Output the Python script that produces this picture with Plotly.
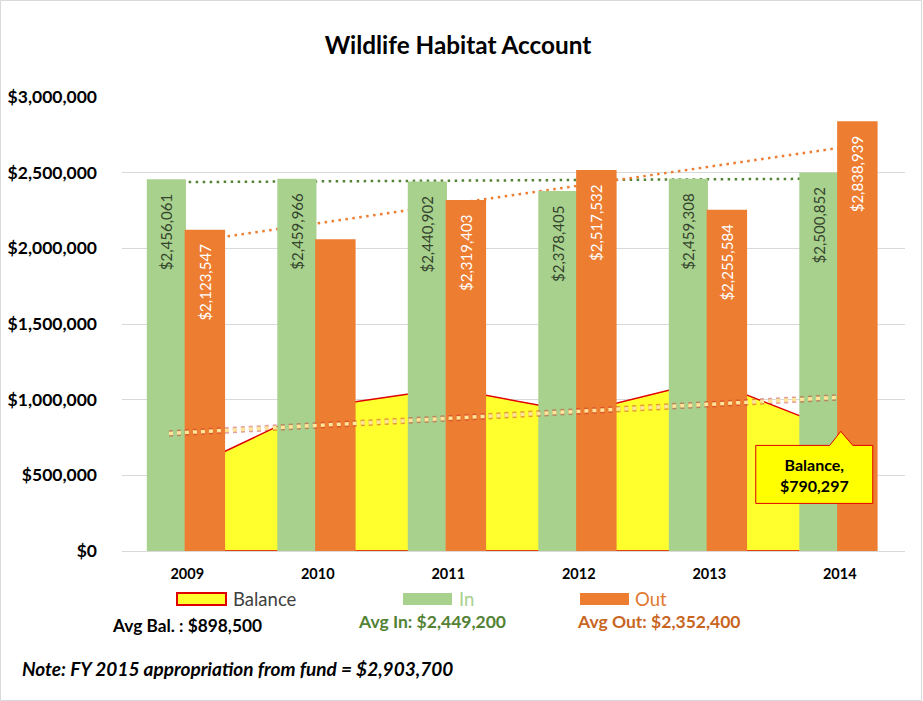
import numpy as np
import plotly.graph_objects as go

years = ["2009", "2010", "2011", "2012", "2013", "2014"]
in_vals = [2456061, 2459966, 2440902, 2378405, 2459308, 2500852]
out_vals = [2123547, 2059400, 2319403, 2517532, 2255584, 2838939]
out_labels = ["$2,123,547", "", "$2,319,403", "$2,517,532", "$2,255,584", "$2,838,939"]
balance = [540000, 950000, 1075000, 915000, 1128000, 790297]

title = "Wildlife Habitat Account"
avg_bal_text = "Avg Bal. : $898,500"
avg_in_text = "Avg In: $2,449,200"
avg_out_text = "Avg Out: $2,352,400"
note_text = "Note: FY 2015 appropriation from fund = $2,903,700"
callout_text = "Balance,<br>$790,297"

GREEN = "#A9D18E"
ORANGE = "#ED7D31"
FONT = "Lato"
PAD = "&nbsp;&nbsp;&nbsp;"

idx = np.arange(len(years))

def trend(vals, xs):
    k, b = np.polyfit(idx, np.array(vals, dtype=float), 1)
    xs = np.array(xs, dtype=float)
    return xs, k * xs + b

fig = go.Figure()

# ---- base layer (behind bars): balance area + In/Out trendlines
fig.add_trace(go.Scatter(
    x=list(idx) + [idx[-1], idx[0]],
    y=balance + [0, 0],
    fill="toself", fillcolor="#FFFF2E",
    line=dict(color="#E00000", width=1.5),
    mode="lines", hoverinfo="skip", xaxis="x", yaxis="y"))

tx, ty = trend(in_vals, [idx[0] - 0.15, idx[-1] - 0.15])
fig.add_trace(go.Scatter(x=tx, y=ty, mode="lines",
                         line=dict(color="#548235", width=2.5, dash="2.5px,4.5px"),
                         xaxis="x", yaxis="y", hoverinfo="skip"))
tx, ty = trend(out_vals, [idx[0] + 0.15, idx[-1] + 0.15])
fig.add_trace(go.Scatter(x=tx, y=ty, mode="lines",
                         line=dict(color=ORANGE, width=2.5, dash="2.5px,4.5px"),
                         xaxis="x", yaxis="y", hoverinfo="skip"))

# ---- overlay layer: bars + balance trendline
fig.add_trace(go.Bar(
    x=idx, y=in_vals, width=0.3, offset=-0.31,
    marker=dict(color=GREEN, line=dict(width=0)),
    text=[f"${v:,}{PAD}" for v in in_vals], textposition="inside",
    insidetextanchor="end", textangle=-90, constraintext="none",
    textfont=dict(family=FONT, size=15, color="#34442C"),
    xaxis="x2", yaxis="y2", hoverinfo="skip"))
fig.add_trace(go.Bar(
    x=idx, y=out_vals, width=0.31, offset=-0.02,
    marker=dict(color=ORANGE, line=dict(width=0)),
    text=[(t + PAD) if t else "" for t in out_labels], textposition="inside",
    insidetextanchor="end", textangle=-90, constraintext="none",
    textfont=dict(family=FONT, size=15, color="white"),
    xaxis="x2", yaxis="y2", hoverinfo="skip"))

tx, ty = trend(balance, [idx[0] - 0.14, idx[-1]])
fig.add_trace(go.Scatter(x=tx, y=ty, mode="lines",
                         line=dict(color="rgba(200,40,40,0.45)", width=6.5, dash="4px,4px"),
                         xaxis="x2", yaxis="y2", hoverinfo="skip"))
fig.add_trace(go.Scatter(x=tx, y=ty, mode="lines",
                         line=dict(color="#FFE699", width=3.5, dash="4px,4px"),
                         xaxis="x2", yaxis="y2", hoverinfo="skip"))

L, R, T, B = 122, 18, 97, 150
W, H = 923, 701
pw, ph = W - L - R, H - T - B

def px(xp):
    return (xp - L) / pw

def py(yp):
    return (H - B - yp) / ph

xr = [-0.5, len(years) - 0.5]
yr = [0, 3000000]

fig.update_layout(
    width=W, height=H,
    margin=dict(l=L, r=R, t=T, b=B, autoexpand=False),
    paper_bgcolor="white", plot_bgcolor="white",
    showlegend=False, hovermode=False,
    title=dict(text=f"<b>{title}</b>", x=458 / W, xanchor="center",
               y=1 - 45 / H, yanchor="middle", yref="container",
               font=dict(family=FONT, size=24.3, color="black")),
    xaxis=dict(range=xr, tickvals=list(idx), ticktext=[f"<b>{y}</b>" for y in years],
               showgrid=False, showline=True, linecolor="#D9D9D9", linewidth=1,
               ticks="", tickfont=dict(family=FONT, size=14.5, color="black"),
               zeroline=False, automargin=False, ticklabelstandoff=10),
    yaxis=dict(range=yr, dtick=500000, tickprefix="$", tickformat=",d",
               showgrid=True, gridcolor="#D9D9D9", gridwidth=1, zeroline=False,
               showline=False, ticks="", ticklabelstandoff=24, automargin=False,
               tickfont=dict(family=FONT, size=17.5, color="black", weight="bold")),
    xaxis2=dict(range=xr, overlaying="x", visible=False, automargin=False),
    yaxis2=dict(range=yr, overlaying="y", visible=False, automargin=False),
    barmode="overlay",
)

shapes = []
annotations = []

# chart border
shapes.append(dict(type="rect", xref="paper", yref="paper",
                   x0=px(0.5), x1=px(921.5), y0=py(0.5), y1=py(700.5),
                   line=dict(color="#D9D9D9", width=1), fillcolor="rgba(0,0,0,0)", layer="below"))

# legend swatches
for (x0, x1, fill, border) in [(177, 226, "#FFFF2E", "#E00000"),
                               (403, 452, GREEN, GREEN),
                               (580, 629, ORANGE, ORANGE)]:
    shapes.append(dict(type="rect", xref="paper", yref="paper",
                       x0=px(x0), x1=px(x1), y0=py(605), y1=py(593),
                       fillcolor=fill, line=dict(color=border, width=2 if border != fill else 0)))

leg_font = dict(family=FONT, size=18.5)
for (xl, txt, col) in [(231, "Balance", "#404040"), (457, "In", GREEN), (633, "Out", "#E2782F")]:
    annotations.append(dict(xref="paper", yref="paper", x=px(xl), y=py(599),
                            xanchor="left", yanchor="middle", showarrow=False,
                            text=txt, font=dict(color=col, **leg_font)))

annotations += [
    dict(xref="paper", yref="paper", x=px(110), y=py(625), xanchor="left", yanchor="middle",
         showarrow=False, text=f"<b>{avg_bal_text}</b>",
         font=dict(family=FONT, size=17.3, color="black")),
    dict(xref="paper", yref="paper", x=px(356), y=py(621), xanchor="left", yanchor="middle",
         showarrow=False, text=f"<b>{avg_in_text}</b>",
         font=dict(family=FONT, size=17.5, color="#548235")),
    dict(xref="paper", yref="paper", x=px(575), y=py(621), xanchor="left", yanchor="middle",
         showarrow=False, text=f"<b>{avg_out_text}</b>",
         font=dict(family=FONT, size=17.5, color="#C8651F")),
    dict(xref="paper", yref="paper", x=px(20), y=py(668), xanchor="left", yanchor="middle",
         showarrow=False, text=f"<b><i>{note_text}</i></b>",
         font=dict(family=FONT, size=19, color="black")),
]

# callout for last balance point
shapes.append(dict(type="path", xref="x", yref="y",
                   xsizemode="pixel", ysizemode="pixel",
                   xanchor=idx[-1], yanchor=balance[-1],
                   path="M -84,-14 L -10,-14 L 1,0 L 13,-14 L 33,-14 L 33,-72 L -84,-72 Z",
                   fillcolor="#FFFF00", line=dict(color="#E00000", width=1), layer="above"))
annotations.append(dict(xref="x", yref="y", x=idx[-1], y=balance[-1],
                        xshift=-25, yshift=-44, showarrow=False,
                        text=f"<b>{callout_text}</b>", align="center",
                        xanchor="center", yanchor="middle",
                        font=dict(family=FONT, size=16, color="black")))

fig.update_layout(shapes=shapes, annotations=annotations)
fig.write_html("out.html", config={"displayModeBar": False},
               post_script="document.body.style.margin='0';document.body.style.padding='0';")
